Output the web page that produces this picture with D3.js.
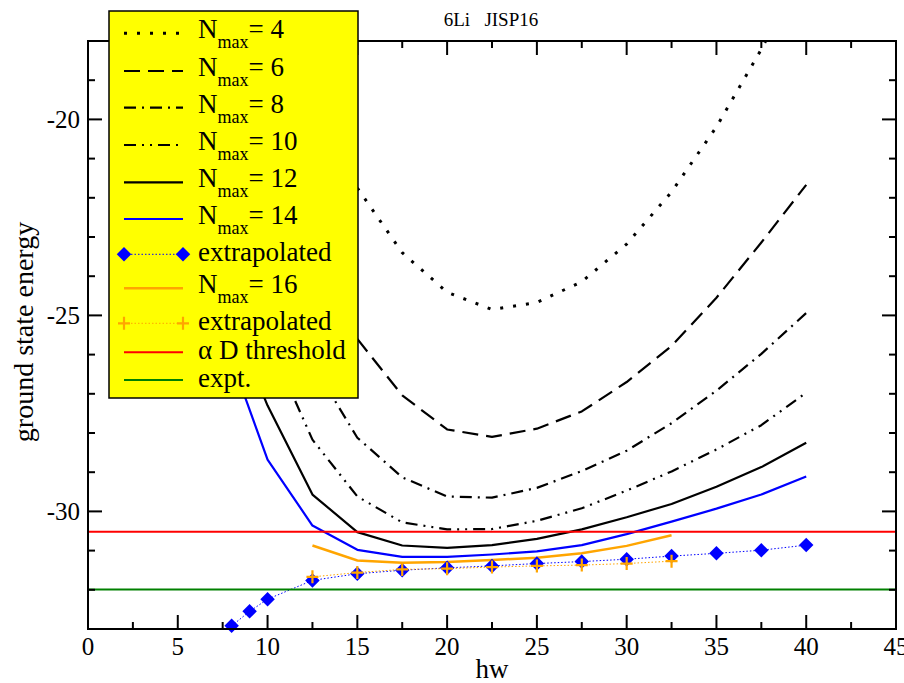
<!DOCTYPE html>
<html>
<head>
<meta charset="utf-8">
<script src="https://cdn.jsdelivr.net/npm/d3@7"></script>
<style>
  body { margin: 0; background: #fff; }
  svg { display: block; font-family: "Liberation Serif", "Times New Roman", serif; }
</style>
</head>
<body>
<div id="chart"></div>
<script>
// hw grid shared by the Nmax curves (null = no point)
var hwGrid = [7.5, 10, 12.5, 15, 17.5, 20, 22.5, 25, 27.5, 30, 32.5, 35, 37.5, 40];
var nmax4  = [null, null, null, -21.75, -23.40, -24.41, -24.85, -24.67, -24.14, -23.18, -21.85, -20.19, -18.21, -16.0];
var nmax6  = [null, null, null, -25.60, -27.04, -27.91, -28.10, -27.89, -27.45, -26.70, -25.78, -24.55, -23.14, -21.67];
var nmax8  = [null, null, -26.23, -28.12, -29.13, -29.62, -29.65, -29.40, -28.97, -28.45, -27.75, -26.92, -25.98, -24.94];
var nmax10 = [null, -25.60, -28.17, -29.62, -30.28, -30.46, -30.45, -30.24, -29.92, -29.47, -28.98, -28.42, -27.80, -26.97];
var nmax12 = [-24.5, -27.30, -29.57, -30.53, -30.87, -30.93, -30.86, -30.70, -30.46, -30.15, -29.81, -29.37, -28.87, -28.25];
var nmax14 = [-25.5, -28.68, -30.36, -30.98, -31.16, -31.16, -31.10, -31.02, -30.86, -30.58, -30.26, -29.93, -29.57, -29.11];
var nmax16 = [null, null, -30.87, -31.25, -31.31, -31.29, -31.24, -31.18, -31.07, -30.88, -30.61, null, null, null];

// extrapolations
var extHw14 = [8, 9, 10, 12.5, 15, 17.5, 20, 22.5, 25, 27.5, 30, 32.5, 35, 37.5, 40];
var ext14   = [-32.92, -32.55, -32.24, -31.76, -31.59, -31.50, -31.44, -31.39, -31.33, -31.28, -31.22, -31.14, -31.07, -30.99, -30.86];
var extHw16 = [12.5, 15, 17.5, 20, 22.5, 25, 27.5, 30, 32.5];
var ext16   = [-31.67, -31.56, -31.48, -31.46, -31.42, -31.39, -31.37, -31.33, -31.27];

var alphaD = -30.52;
var expt = -31.99;

var xTicks = [0, 5, 10, 15, 20, 25, 30, 35, 40, 45];
var yTicks = [-30, -25, -20];

var W = 904, H = 683;
var pL = 88, pR = 896, pT = 41, pB = 629;

var x = d3.scaleLinear().domain([0, 45]).range([pL, pR]);
var y = d3.scaleLinear().domain([-33, -18]).range([pB, pT]);

var svg = d3.select("#chart").append("svg")
    .attr("width", W).attr("height", H);

svg.append("defs").append("clipPath").attr("id", "plotclip")
  .append("rect")
    .attr("x", pL).attr("y", pT)
    .attr("width", pR - pL).attr("height", pB - pT);

function pts(xs, ys) {
  var out = [];
  xs.forEach(function(v, i) { if (ys[i] != null) out.push([v, ys[i]]); });
  return out;
}

var line = d3.line()
    .x(function(d) { return x(d[0]); })
    .y(function(d) { return y(d[1]); });

var curves = [
  {vals: nmax4,  color: "#000", dash: "3,10", w: 3},
  {vals: nmax6,  color: "#000", dash: "16,8", w: 2.2},
  {vals: nmax8,  color: "#000", dash: "12,6,2,6", w: 2.2},
  {vals: nmax10, color: "#000", dash: "12,6,2,6,2,6", w: 2.2},
  {vals: nmax12, color: "#000", dash: null, w: 2.2},
  {vals: nmax14, color: "#0000ff", dash: null, w: 2.2}
];

var plot = svg.append("g").attr("clip-path", "url(#plotclip)");

plot.selectAll("path.curve")
  .data(curves)
  .enter().append("path")
    .attr("class", "curve")
    .attr("d", function(d) { return line(pts(hwGrid, d.vals)); })
    .attr("fill", "none")
    .attr("stroke", function(d) { return d.color; })
    .attr("stroke-width", function(d) { return d.w; })
    .attr("stroke-dasharray", function(d) { return d.dash; })
    .attr("stroke-linejoin", "round");

// extrapolated (Nmax 14)
plot.append("path")
    .attr("d", line(pts(extHw14, ext14)))
    .attr("fill", "none")
    .attr("stroke", "#0000ff")
    .attr("stroke-width", 1)
    .attr("stroke-dasharray", "1.5,2");

var diamond = d3.symbol().type(d3.symbolSquare).size(105);
svg.append("g").selectAll("path")
  .data(pts(extHw14, ext14))
  .enter().append("path")
    .attr("d", diamond)
    .attr("transform", function(d) { return "translate(" + x(d[0]) + "," + y(d[1]) + ") rotate(45)"; })
    .attr("fill", "#0000ff");

// Nmax 16
plot.append("path")
    .attr("d", line(pts(hwGrid, nmax16)))
    .attr("fill", "none")
    .attr("stroke", "#ffa500")
    .attr("stroke-width", 2.5);

plot.append("path")
    .attr("d", line(pts(extHw16, ext16)))
    .attr("fill", "none")
    .attr("stroke", "#ffa500")
    .attr("stroke-width", 1)
    .attr("stroke-dasharray", "1.5,2");

svg.append("g").selectAll("path")
  .data(pts(extHw16, ext16))
  .enter().append("path")
    .attr("d", "M-6,0H6M0,-6.5V6.5")
    .attr("transform", function(d) { return "translate(" + x(d[0]) + "," + y(d[1]) + ")"; })
    .attr("stroke", "#ffa500")
    .attr("stroke-width", 2.2);

// thresholds
plot.append("line")
    .attr("x1", x(0)).attr("x2", x(45))
    .attr("y1", y(alphaD)).attr("y2", y(alphaD))
    .attr("stroke", "#ff0000").attr("stroke-width", 2);
plot.append("line")
    .attr("x1", x(0)).attr("x2", x(45))
    .attr("y1", y(expt)).attr("y2", y(expt))
    .attr("stroke", "#008000").attr("stroke-width", 2);

// frame and ticks (inward on all sides)
var frame = svg.append("g").attr("stroke", "#000").attr("stroke-width", 2);
frame.append("rect")
    .attr("x", pL).attr("y", pT)
    .attr("width", pR - pL).attr("height", pB - pT)
    .attr("fill", "none");

var xMinor = d3.range(0, 45.01, 2.5);
var yMinor = d3.range(-33, -17.99, 1);

xMinor.forEach(function(v) {
  var len = (v % 5 === 0) ? 14 : 7;
  frame.append("line").attr("x1", x(v)).attr("x2", x(v)).attr("y1", pB).attr("y2", pB - len);
  frame.append("line").attr("x1", x(v)).attr("x2", x(v)).attr("y1", pT).attr("y2", pT + len);
});
yMinor.forEach(function(v) {
  var len = (v % 5 === 0) ? 14 : 7;
  frame.append("line").attr("x1", pL).attr("x2", pL + len).attr("y1", y(v)).attr("y2", y(v));
  frame.append("line").attr("x1", pR).attr("x2", pR - len).attr("y1", y(v)).attr("y2", y(v));
});

svg.append("g").selectAll("text")
  .data(xTicks)
  .enter().append("text")
    .attr("x", function(d) { return x(d); })
    .attr("y", 655)
    .attr("text-anchor", "middle")
    .attr("font-size", 25)
    .text(function(d) { return d; });

svg.append("g").selectAll("text")
  .data(yTicks)
  .enter().append("text")
    .attr("x", 80)
    .attr("y", function(d) { return y(d) + 8.5; })
    .attr("text-anchor", "end")
    .attr("font-size", 25)
    .text(function(d) { return d; });

svg.append("text")
    .attr("x", 492).attr("y", 678)
    .attr("text-anchor", "middle")
    .attr("font-size", 27)
    .text("hw");

svg.append("text")
    .attr("transform", "translate(33,332) rotate(-90)")
    .attr("text-anchor", "middle")
    .attr("font-size", 28)
    .text("ground state energy");

svg.append("text")
    .attr("x", 491).attr("y", 26)
    .attr("text-anchor", "middle")
    .attr("font-size", 19)
    .style("white-space", "pre")
    .text("6Li   JISP16");

// legend
var lg = svg.append("g");
lg.append("rect")
    .attr("x", 109).attr("y", 11)
    .attr("width", 249).attr("height", 387)
    .attr("fill", "#ffff00")
    .attr("stroke", "#000").attr("stroke-width", 1.5);

var legendRows = [
  {y: 33.3,  nmax: "4",  color: "#000", dash: "3,10", w: 3},
  {y: 71,    nmax: "6",  color: "#000", dash: "16,8", w: 2.2},
  {y: 107.7, nmax: "8",  color: "#000", dash: "12,6,2,6", w: 2.2},
  {y: 145,   nmax: "10", color: "#000", dash: "12,6,2,6,2,6", w: 2.2},
  {y: 182.3, nmax: "12", color: "#000", dash: null, w: 2.2},
  {y: 219,   nmax: "14", color: "#0000ff", dash: null, w: 2.2},
  {y: 254.3, label: "extrapolated", color: "#0000ff", dash: "1.5,2", w: 1, mark: "diamond"},
  {y: 288.3, nmax: "16", color: "#ffa500", dash: null, w: 2.5},
  {y: 323.3, label: "extrapolated", color: "#ffa500", dash: "1.5,2", w: 1, mark: "plus"},
  {y: 352.3, label: "\u03b1 D threshold", color: "#ff0000", dash: null, w: 2},
  {y: 380,   label: "expt.", color: "#008000", dash: null, w: 2}
];

legendRows.forEach(function(r) {
  lg.append("line")
      .attr("x1", 124).attr("x2", 183)
      .attr("y1", r.y).attr("y2", r.y)
      .attr("stroke", r.color)
      .attr("stroke-width", r.w)
      .attr("stroke-dasharray", r.dash);
  if (r.mark === "diamond") {
    [124, 183].forEach(function(px) {
      lg.append("path").attr("d", diamond)
        .attr("transform", "translate(" + px + "," + r.y + ") rotate(45)")
        .attr("fill", "#0000ff");
    });
  }
  if (r.mark === "plus") {
    [124, 183].forEach(function(px) {
      lg.append("path").attr("d", "M-6,0H6M0,-6.5V6.5")
        .attr("transform", "translate(" + px + "," + r.y + ")")
        .attr("stroke", "#ffa500").attr("stroke-width", 2.2);
    });
  }
  var t = lg.append("text").attr("x", 198).attr("font-size", 27);
  if (r.nmax) {
    t.attr("y", r.y + 5);
    t.append("tspan").text("N");
    t.append("tspan").attr("font-size", 18).attr("dy", 10).text("max");
    t.append("tspan").attr("dy", -10).text("= " + r.nmax);
  } else {
    t.attr("y", r.y + 7).text(r.label);
  }
});
</script>
</body>
</html>
